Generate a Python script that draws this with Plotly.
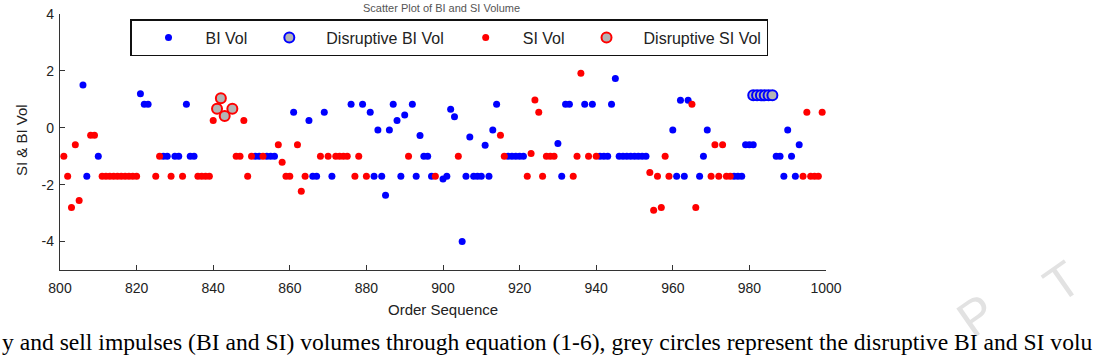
import plotly.graph_objects as go

# ---------------- data ----------------
bi_order = [806, 807, 810, 821, 822, 823, 827, 828, 830, 831, 833, 834, 835,
            851, 852, 854, 855, 856, 861, 865, 866, 867, 869, 871, 876, 879,
            881, 882, 883, 884, 885, 886, 887, 888, 889, 890, 892, 893, 894,
            895, 896, 897, 900, 901, 902, 903, 905, 906, 907, 908, 909, 910,
            911, 912, 913, 914, 917, 918, 919, 920, 921, 930, 931, 932, 933,
            937, 939, 941, 942, 943, 944, 945, 946, 947, 948, 949, 950, 951,
            952, 953, 960, 961, 962, 963, 964, 967, 968, 969, 976, 977, 978,
            979, 980, 981, 987, 988, 989, 990, 991, 992, 993]
bi_vol = [1.5, -1.7, -1.0, 1.2, 0.83, 0.83, -1.0, -1.0, -1.0, -1.0, 0.83, -1.0, -1.0,
          -1.0, -1.0, -1.0, -1.0, -1.0, 0.55, 0.26, -1.7, -1.7, 0.55, -1.7, 0.83, 0.83,
          0.55, -1.7, -0.08, -1.7, -2.37, -0.08, 0.83, 0.26, -1.7, 0.45, 0.83, -1.7, -0.27,
          -1.0, -1.0, -1.7, -1.8, -1.7, 0.65, 0.39, -4.0, -1.7, -0.32, -1.7, -1.7, -1.7,
          -0.61, -1.7, -0.08, 0.83, -1.0, -1.0, -1.0, -1.0, -1.0, -0.55, -1.7, 0.83, 0.83,
          0.83, 0.83, -1.0, -1.0, -1.0, 0.83, 1.73, -1.0, -1.0, -1.0, -1.0, -1.0, -1.0,
          -1.0, -1.0, -0.08, -1.7, 0.97, -1.7, 0.97, -1.7, -1.0, -0.08, -1.7, -1.7, -1.7,
          -0.6, -0.6, -0.6, -1.0, -1.0, -1.7, -0.08, -1.0, -1.7, -0.6]

dbi_order = [981, 982, 983, 984, 985, 986]
dbi_vol = [1.14, 1.14, 1.14, 1.14, 1.14, 1.14]

si_order = [801, 802, 803, 804, 805, 808, 809, 811, 812, 813, 814, 815, 816, 817,
            818, 819, 820, 825, 826, 829, 832, 836, 837, 838, 839, 840, 846, 847,
            848, 849, 850, 853, 857, 858, 859, 860, 862, 863, 864, 868, 870, 872,
            873, 874, 875, 877, 878, 880, 891, 898, 904, 915, 916, 922, 923, 924,
            925, 926, 927, 928, 929, 934, 935, 936, 938, 940, 954, 955, 956, 957,
            958, 959, 965, 966, 970, 971, 972, 973, 974, 975, 994, 995, 996, 997,
            998, 999]
si_vol = [-1.0, -1.7, -2.8, -0.6, -2.56, -0.26, -0.26, -1.7, -1.7, -1.7, -1.7, -1.7, -1.7, -1.7,
          -1.7, -1.7, -1.7, -1.7, -1.0, -1.7, -1.7, -1.7, -1.7, -1.7, -1.7, 0.26, -1.0, -1.0,
          0.26, -1.7, -1.0, -1.0, -0.6, -1.21, -1.7, -1.7, -0.6, -2.23, -1.7, -1.0, -1.0, -1.0,
          -1.0, -1.0, -1.0, -1.7, -1.0, -1.7, -1.0, -1.7, -1.0, -0.26, -1.0, -1.7, -0.9, 0.98,
          0.55, -1.7, -1.0, -1.0, -1.0, -1.7, -1.0, 1.92, -1.0, -1.0, -1.57, -2.9, -1.7, -2.8,
          -1.0, -1.7, 0.83, -2.8, -1.7, -0.6, -1.7, -0.6, -1.7, -1.7, -1.7, 0.55, -1.7, -1.7,
          -1.7, 0.55]

dsi_order = [841, 842, 843, 845]
dsi_vol = [0.67, 1.04, 0.41, 0.67]

x_ticks = [800, 820, 840, 860, 880, 900, 920, 940, 960, 980, 1000]
y_ticks = [-4, -2, 0, 2, 4]
y_tick_text = ["-4", "-2", "0", "2", "4"]

# ---------------- figure ----------------
W, H = 1102, 357
L, R, T, B = 60, 276, 14, 87
pw, ph = W - L - R, H - T - B

def px(x):
    return (x - L) / pw

def py(y):
    return (H - B - y) / ph

SANS = "Liberation Sans, Arial, sans-serif"
SERIF = "Liberation Serif, Times New Roman, serif"
BLUE = "#0000FF"
RED = "#FF0000"
GREY = "#b4b4b4"

fig = go.Figure()
fig.add_trace(go.Scatter(x=bi_order, y=bi_vol, mode="markers", name="BI Vol",
                         marker=dict(color=BLUE, size=7, line=dict(width=0))))
fig.add_trace(go.Scatter(x=dbi_order, y=dbi_vol, mode="markers", name="Disruptive BI Vol",
                         marker=dict(color=GREY, size=10, line=dict(color=BLUE, width=2))))
fig.add_trace(go.Scatter(x=si_order, y=si_vol, mode="markers", name="SI Vol",
                         marker=dict(color=RED, size=7, line=dict(width=0))))
fig.add_trace(go.Scatter(x=dsi_order, y=dsi_vol, mode="markers", name="Disruptive SI Vol",
                         marker=dict(color=GREY, size=10, line=dict(color=RED, width=2))))

axis_common = dict(showgrid=False, zeroline=False, showline=True, linecolor="#333333",
                   linewidth=1.3, ticks="inside", ticklen=5, tickwidth=1.3,
                   tickcolor="#333333", mirror=False,
                   tickfont=dict(family=SANS, size=14, color="#222222"))

fig.update_xaxes(range=[800, 1000], tickvals=x_ticks, ticklabelstandoff=5, **axis_common)
fig.update_yaxes(range=[-5, 4], tickvals=y_ticks, ticktext=y_tick_text,
                 ticklabelstandoff=2, **axis_common)

fig.update_layout(
    width=W, height=H,
    margin=dict(l=L, r=R, t=T, b=B, autoexpand=False),
    paper_bgcolor="white", plot_bgcolor="white",
    showlegend=True,
    legend=dict(orientation="h", x=px(130), y=py(19), xanchor="left", yanchor="top",
                bgcolor="white", bordercolor="#111111", borderwidth=1.5,
                itemwidth=64, font=dict(family=SANS, size=16, color="#222222"),
                itemclick=False),
    annotations=[
        # watermark letters
        dict(text="P", x=px(976), y=py(316), xref="paper", yref="paper",
             xanchor="center", yanchor="middle",
             showarrow=False, textangle=-35, font=dict(family=SANS, size=50, color="#e2e2e2")),
        dict(text="T", x=px(1062), y=py(282), xref="paper", yref="paper",
             xanchor="center", yanchor="middle",
             showarrow=False, textangle=-35, font=dict(family=SANS, size=50, color="#e2e2e2")),
        # title (cut at the top of the reference)
        dict(text="Scatter Plot of BI and SI Volume", x=px(441), y=py(0), xref="paper", yref="paper",
             showarrow=False, xanchor="center", yanchor="top",
             font=dict(family=SANS, size=11, color="#555555")),
        # axis titles
        dict(text="Order Sequence", x=px(443), y=py(309), xref="paper", yref="paper",
             showarrow=False, xanchor="center", yanchor="middle",
             font=dict(family=SANS, size=15, color="#222222")),
        dict(text="SI & BI Vol", x=px(21), y=py(140), xref="paper", yref="paper",
             showarrow=False, xanchor="center", yanchor="middle", textangle=-90,
             font=dict(family=SANS, size=15, color="#222222")),
        # caption
        dict(text="y and sell impulses (BI and SI) volumes through equation (1-6), grey circles represent the disruptive BI and SI volu",
             x=px(0), y=py(342), xref="paper", yref="paper", showarrow=False,
             xanchor="left", yanchor="middle",
             font=dict(family=SERIF, size=23.6, color="#000000")),
    ],
)

fig.write_html("out.html")
